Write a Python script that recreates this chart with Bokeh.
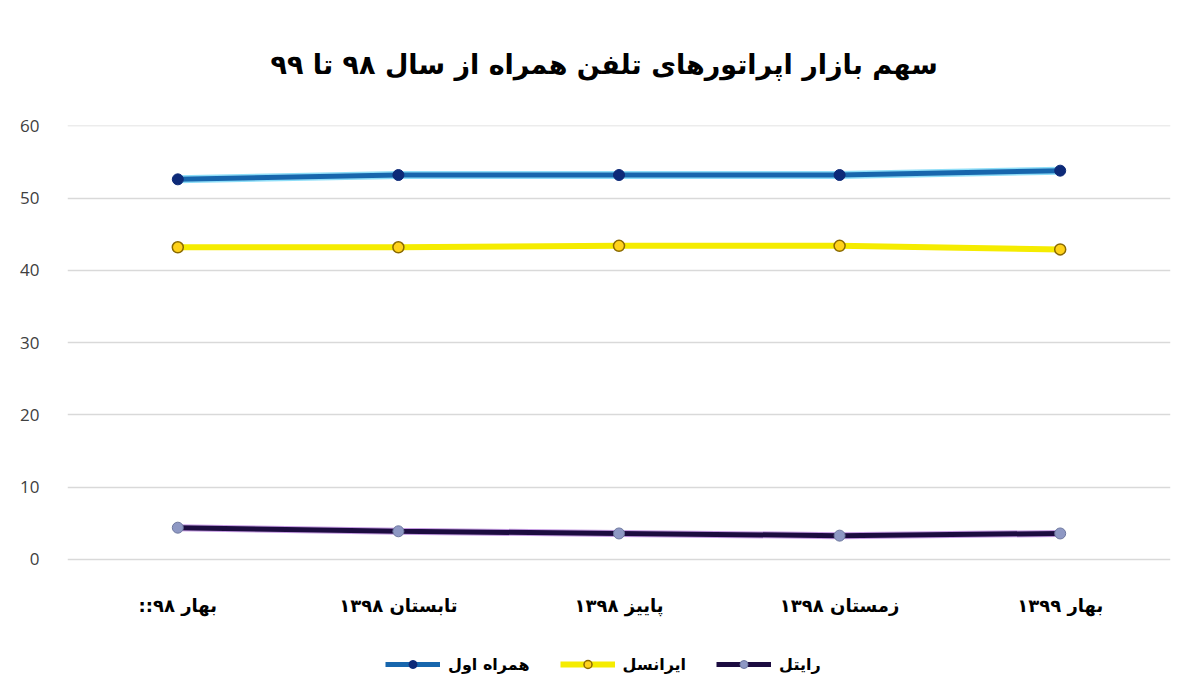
from bokeh.plotting import figure
from bokeh.models import Range1d, FactorRange, Legend, LegendItem
from bokeh.embed import file_html
from bokeh.resources import INLINE

# data
chart_title = "سهم بازار اپراتورهای تلفن همراه از سال ۹۸ تا ۹۹"
quarters = ["بهار ۹۸::\u200f", "تابستان ۱۳۹۸", "پاییز ۱۳۹۸", "زمستان ۱۳۹۸", "بهار ۱۳۹۹"]
hamrah_aval = [52.6, 53.2, 53.2, 53.2, 53.8]
irancell = [43.2, 43.2, 43.4, 43.4, 42.9]
rightel = [4.4, 3.9, 3.6, 3.3, 3.6]
operators = ["همراه اول", "ایرانسل", "رایتل"]
y_ticks = [0, 10, 20, 30, 40, 50, 60]

# the frame runs below zero so that the axis labels and the legend sit inside it
p = figure(width=1184, height=684,
           x_range=FactorRange(*quarters, range_padding=0),
           y_range=Range1d(-17.3, 60.05),
           min_border_left=67, min_border_right=14,
           min_border_top=124, min_border_bottom=0,
           output_backend="svg", toolbar_location=None)

p.title.text = chart_title
p.title.align = "left"
p.title.offset = 203
p.title.text_font = "DejaVu Sans"
p.title.text_font_size = "27px"
p.title.text_font_style = "bold"
p.title.text_color = "black"
p.title.standoff = 92

p.outline_line_color = None
p.xgrid.grid_line_color = None
p.ygrid.grid_line_color = "#d9d9d9"
p.ygrid.grid_line_width = 1.5
p.yaxis.ticker = y_ticks

p.yaxis.axis_line_color = None
p.yaxis.major_tick_line_color = None
p.yaxis.minor_tick_line_color = None
p.yaxis.major_label_text_font = "Open Sans"
p.yaxis.major_label_text_font_size = "17px"
p.yaxis.major_label_text_color = "#404040"
p.yaxis.major_label_standoff = 22

p.xaxis.fixed_location = 0
p.xaxis.axis_line_color = None
p.xaxis.major_tick_line_color = None
p.xaxis.major_label_text_font = "DejaVu Sans"
p.xaxis.major_label_text_font_size = "18px"
p.xaxis.major_label_text_font_style = "bold"
p.xaxis.major_label_text_color = "black"
p.xaxis.major_label_standoff = 30

# soft glow under the lines, as in the original picture
p.line(quarters, hamrah_aval, line_color="#5fd0f5", line_width=8, line_alpha=0.7)
p.line(quarters, rightel, line_color="#a05ad0", line_width=7, line_alpha=0.6)

l1 = p.line(quarters, hamrah_aval, line_color="#1766ad", line_width=5)
s1 = p.scatter(quarters, hamrah_aval, size=11, fill_color="#0d2a78", line_color="#0d2a78")
l2 = p.line(quarters, irancell, line_color="#f5ec00", line_width=6)
s2 = p.scatter(quarters, irancell, size=11, fill_color="#ffd21a", line_color="#8a6a00", line_width=1.5)
l3 = p.line(quarters, rightel, line_color="#1c0c40", line_width=5)
s3 = p.scatter(quarters, rightel, size=11, fill_color="#8e98c4", line_color="#6e789f")

legend = Legend(items=[LegendItem(label=operators[0], renderers=[l1, s1]),
                       LegendItem(label=operators[1], renderers=[l2, s2]),
                       LegendItem(label=operators[2], renderers=[l3, s3])],
                orientation="horizontal", location=(318, 10))
legend.border_line_color = None
legend.background_fill_alpha = 0
legend.margin = 0
legend.padding = 0
legend.spacing = 30
legend.glyph_width = 55
legend.label_standoff = 8
legend.label_text_font = "DejaVu Sans"
legend.label_text_font_size = "16px"
legend.label_text_font_style = "bold"
legend.label_text_color = "black"
p.add_layout(legend)

open("out.html", "w").write(file_html(p, INLINE))
